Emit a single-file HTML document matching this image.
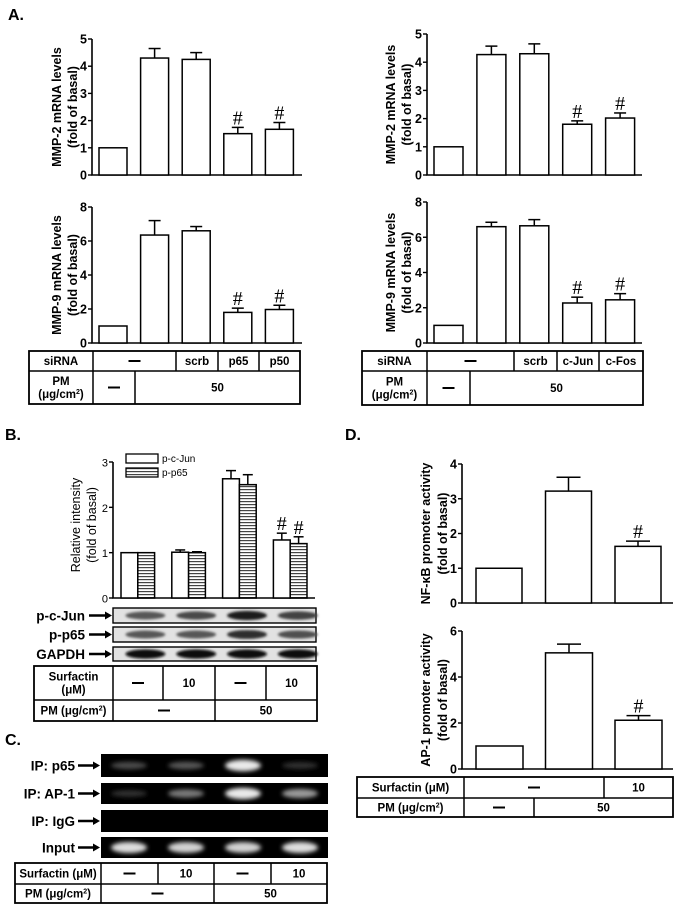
<!DOCTYPE html>
<html><head><meta charset="utf-8"><style>
html,body{margin:0;padding:0;background:#fff}
svg{display:block;font-family:"Liberation Sans",Arial,sans-serif}
</style></head><body>
<svg id="fig" width="681" height="909" viewBox="0 0 681 909" xmlns="http://www.w3.org/2000/svg">
<defs>
<pattern id="stripes" patternUnits="userSpaceOnUse" width="4" height="3"><rect width="4" height="3" fill="#fff"/><rect y="0" width="4" height="1.2" fill="#444"/></pattern>
<filter id="blur2" x="-20%" y="-50%" width="140%" height="200%"><feGaussianBlur stdDeviation="2.2"/></filter>
<filter id="blur1" x="-20%" y="-50%" width="140%" height="200%"><feGaussianBlur stdDeviation="1.2"/></filter>
</defs>
<g id="root"></g>
</svg>
<script>
// ---------- data ----------
const aCats = ['ctrl','pm','scrb','si1','si2'];
const a1Vals = [1, 4.3, 4.25, 1.52, 1.68];
const a1Err = [0, 0.35, 0.25, 0.23, 0.25];
const a1Hash = [false,false,false,true,true];
const a2Vals = [1, 6.35, 6.6, 1.8, 1.97];
const a2Err = [0, 0.85, 0.25, 0.25, 0.25];
const a3Vals = [1, 4.27, 4.3, 1.8, 2.02];
const a3Err = [0, 0.3, 0.35, 0.12, 0.18];
const a4Vals = [1, 6.6, 6.65, 2.27, 2.45];
const a4Err = [0, 0.25, 0.35, 0.33, 0.35];
const mmp2Ticks = [0,1,2,3,4,5];
const mmp9Ticks = [0,2,4,6,8];
const bJun = [1, 1.01, 2.63, 1.28];
const bJunErr = [0, 0.05, 0.18, 0.15];
const bP65 = [1, 1.0, 2.5, 1.2];
const bP65Err = [0, 0.02, 0.22, 0.15];
const bHash = [false,false,false,true];
const bTicks = [0,1,2,3];
const dNf = [1, 3.22, 1.63];
const dNfErr = [0, 0.4, 0.15];
const dNfTicks = [0,1,2,3,4];
const dAp = [1, 5.05, 2.12];
const dApErr = [0, 0.38, 0.2];
const dApTicks = [0,2,4,6];
const dHash = [false,false,true];
const blotJun = [0.45,0.55,0.85,0.6];
const blotP65 = [0.45,0.45,0.75,0.5];
const blotGapdh = [1,1,1,1];
const gelP65 = [0.2,0.25,0.9,0.08];
const gelAp1 = [0.08,0.4,0.9,0.55];
const gelIgg = [0,0,0,0];
const gelInput = [0.85,0.8,0.8,0.85];

const NS='http://www.w3.org/2000/svg';
const root=document.getElementById('root');
function el(tag,attrs,parent){const e=document.createElementNS(NS,tag);for(const k in attrs)e.setAttribute(k,attrs[k]);(parent||root).appendChild(e);return e;}
function txt(x,y,s,size,opts,parent){opts=opts||{};const t=el('text',{x:x,y:y,'font-size':size,'text-anchor':opts.anchor||'middle','font-weight':opts.weight||'bold',fill:opts.fill||'#000'},parent);if(opts.rot)t.setAttribute('transform','rotate(-90 '+x+' '+y+')');t.textContent=s;return t;}

function barChart(cfg){
  const g=el('g',{});
  
  
  const max=cfg.ticks[cfg.ticks.length-1];
  const ys=v=>cfg.y0-(v/max)*(cfg.y0-cfg.yTop);
  const xs=i=>cfg.xStart+i*cfg.step;
  const ax=el('path',{d:'M'+cfg.ax+' '+cfg.yTop+' V'+cfg.y0+' H'+cfg.xEnd,stroke:'#000','stroke-width':1.6,fill:'none'},g);
  
  cfg.ticks.forEach(t=>{
    el('line',{x1:cfg.ax-4,x2:cfg.ax,y1:ys(t),y2:ys(t),stroke:'#000','stroke-width':1.4},g);
    const tl=txt(cfg.ax-5,ys(t)+4.5,String(t),cfg.tickSize||12.5,{anchor:'end',weight:cfg.tickWeight||'bold'},g);
    
  });
  cfg.series.forEach((s,si)=>{
    s.vals.forEach((v,i)=>{
      const x=xs(i)+si*cfg.w;
      const r=el('rect',{x:x,y:ys(v),width:cfg.w,height:cfg.y0-ys(v),fill:s.fill||'#fff',stroke:'#000','stroke-width':1.5},g);
      
      
      const e=s.err[i];
      if(e>0){
        const cx=x+cfg.w/2;
        el('line',{x1:cx,x2:cx,y1:ys(v),y2:ys(v+e),stroke:'#000','stroke-width':1.5},g);
        el('line',{x1:cx-cfg.cap,x2:cx+cfg.cap,y1:ys(v+e),y2:ys(v+e),stroke:'#000','stroke-width':1.5},g);
      }
      if(s.hash&&s.hash[i]){
        const h=txt(x+cfg.w/2,ys(v+e)-3,'#',cfg.hashSize||20,{weight:'normal'},g);
        h.setAttribute('font-family','"Liberation Serif",serif');
        
      }
    });
  });
  cfg.title.forEach((l,i)=>{
    const t=txt(cfg.titleX[i],(cfg.yTop+cfg.y0)/2+(cfg.titleDy||0),l,cfg.titleSize||12.5,{rot:true,weight:cfg.titleWeight||'bold'},g);
    
  });
  return g;
}
function table(name,x1,x2,rows,size){
  const g=el('g',{});
  
  
  el('rect',{x:x1,y:rows[0].y1,width:x2-x1,height:rows[rows.length-1].y2-rows[0].y1,fill:'none',stroke:'#000','stroke-width':1.8},g);
  rows.forEach((r,ri)=>{
    if(ri>0)el('line',{x1:x1,x2:x2,y1:r.y1,y2:r.y1,stroke:'#000','stroke-width':1.5},g);
    r.cells.forEach((c,ci)=>{
      if(ci>0)el('line',{x1:c[0],x2:c[0],y1:r.y1,y2:r.y2,stroke:'#000','stroke-width':1.5},g);
      const lines=c[2].split('|');
      const cy=(r.y1+r.y2)/2;
      lines.forEach((l,li)=>{
        const yy=cy+4+(li-(lines.length-1)/2)*13;
        if(l==='—'){el('line',{x1:(c[0]+c[1])/2-6,x2:(c[0]+c[1])/2+6,y1:cy,y2:cy,stroke:'#000','stroke-width':2},g);}
        else{const t=txt((c[0]+c[1])/2,yy,'',size||11,{},g);t.innerHTML=l;}
      });
    });
  });
}
[['A.',8,20],['B.',5,440],['C.',5,745],['D.',345,440]].forEach(p=>{const t=txt(p[1],p[2],p[0],16,{anchor:'start'});});

barChart({name:'mmp2-nfkb-chart',ax:92,xEnd:302,yTop:39,y0:175,ticks:mmp2Ticks,xStart:99,step:41.6,w:28,cap:6,
  series:[{key:'mmp2',vals:a1Vals,err:a1Err,hash:a1Hash}],title:['MMP-2 mRNA levels','(fold of basal)'],titleX:[61,77]});
barChart({name:'mmp9-nfkb-chart',ax:92,xEnd:302,yTop:207,y0:343,ticks:mmp9Ticks,xStart:99,step:41.6,w:28,cap:6,
  series:[{key:'mmp9',vals:a2Vals,err:a2Err,hash:a1Hash}],title:['MMP-9 mRNA levels','(fold of basal)'],titleX:[61,77]});
barChart({name:'mmp2-ap1-chart',ax:427,xEnd:642,yTop:34,y0:175,ticks:mmp2Ticks,xStart:434,step:42.9,w:29,cap:6,
  series:[{key:'mmp2r',vals:a3Vals,err:a3Err,hash:a1Hash}],title:['MMP-2 mRNA levels','(fold of basal)'],titleX:[395,411]});
barChart({name:'mmp9-ap1-chart',ax:427,xEnd:642,yTop:202,y0:343,ticks:mmp9Ticks,xStart:434,step:42.9,w:29,cap:6,
  series:[{key:'mmp9r',vals:a4Vals,err:a4Err,hash:a1Hash}],title:['MMP-9 mRNA levels','(fold of basal)'],titleX:[395,411]});
table('sirna-table-left',29,300,[
 {y1:351,y2:371,cells:[[29,93,'siRNA'],[93,176,'—'],[176,218,'scrb'],[218,259,'p65'],[259,300,'p50']]},
 {y1:371,y2:404,cells:[[29,93,'PM|(μg/cm<tspan font-size="7" dy="-4">2</tspan><tspan dy="4">)</tspan>'],[93,135,'—'],[135,300,'50']]}],11.5);
table('sirna-table-right',362,643,[
 {y1:351,y2:371,cells:[[362,427,'siRNA'],[427,514,'—'],[514,557,'scrb'],[557,599,'c-Jun'],[599,643,'c-Fos']]},
 {y1:371,y2:405,cells:[[362,427,'PM|(μg/cm<tspan font-size="7" dy="-4">2</tspan><tspan dy="4">)</tspan>'],[427,470,'—'],[470,643,'50']]}],11.5);

barChart({name:'relative-intensity-chart',ax:113,xEnd:315,yTop:462,y0:598,ticks:bTicks,xStart:121,step:50.8,w:16.8,cap:5,tickWeight:'normal',tickSize:11,titleWeight:'normal',titleSize:12.5,titleDy:-5,
  series:[{key:'p-c-jun',vals:bJun,err:bJunErr,hash:bHash},{key:'p-p65',vals:bP65,err:bP65Err,hash:bHash,fill:'url(#stripes)'}],
  title:['Relative intensity','(fold of basal)'],titleX:[80,96]});
(function(){
  const g=el('g',{});
  el('rect',{x:126,y:454,width:32,height:9,fill:'#fff',stroke:'#000','stroke-width':1.3},g);
  el('rect',{x:126,y:468,width:32,height:9,fill:'url(#stripes)',stroke:'#000','stroke-width':1.3},g);
  const t1=txt(162,462,'p-c-Jun',10,{anchor:'start',weight:'normal'},g);
  const t2=txt(162,476,'p-p65',10,{anchor:'start',weight:'normal'},g);
})();
function arrow(x1,x2,y,g){el('line',{x1:x1,x2:x2-5,y1:y,y2:y,stroke:'#000','stroke-width':2.5},g);el('path',{d:'M'+(x2-7)+' '+(y-4)+' L'+x2+' '+y+' L'+(x2-7)+' '+(y+4)+'Z',fill:'#000'},g);}
function blot(name,label,y1,y2,ints){
  const g=el('g',{});
  el('rect',{x:113,y:y1,width:203,height:y2-y1,fill:'#e2e2e2',stroke:'#000','stroke-width':1.4},g);
  ints.forEach((v,i)=>{
    const cx=129+8.4+i*50.8;
    const c=Math.round(150-v*140);
    el('ellipse',{cx:cx+8,cy:(y1+y2)/2,rx:20,ry:(y2-y1)*0.22+v*1.5,fill:'rgb('+c+','+c+','+c+')',filter:'url(#blur1)'},g);
  });
  txt(85,(y1+y2)/2+5,label,13.5,{anchor:'end'},g);
  arrow(89,112,(y1+y2)/2,g);
}
blot('blot-p-c-jun','p-c-Jun',608,623,blotJun);
blot('blot-p-p65','p-p65',627,642,blotP65);
blot('blot-gapdh','GAPDH',647,661,blotGapdh);
table('surfactin-table-b',34,317,[
 {y1:666,y2:700,cells:[[34,113,'Surfactin|(μM)'],[113,163,'—'],[163,215,'10'],[215,266,'—'],[266,317,'10']]},
 {y1:700,y2:721,cells:[[34,113,'PM (μg/cm<tspan font-size="7" dy="-4">2</tspan><tspan dy="4">)</tspan>'],[113,215,'—'],[215,317,'50']]}],11.5);

function gel(name,label,y1,y2,ints){
  const g=el('g',{});
  el('rect',{x:101,y:y1,width:227,height:y2-y1,fill:'#000'},g);
  ints.forEach((v,i)=>{
    if(v<=0)return;
    const cx=129+i*57;
    const c=Math.round(30+v*225);
    el('ellipse',{cx:cx,cy:(y1+y2)/2,rx:18,ry:3+v*3,fill:'rgb('+c+','+c+','+c+')',filter:'url(#blur2)'},g);
  });
  txt(75,(y1+y2)/2+5,label,13.5,{anchor:'end'},g);
  arrow(78,100,(y1+y2)/2,g);
}
gel('gel-ip-p65','IP: p65',754,777,gelP65);
gel('gel-ip-ap1','IP: AP-1',783,804,gelAp1);
gel('gel-ip-igg','IP: IgG',810,832,gelIgg);
gel('gel-input','Input',837,858,gelInput);
table('surfactin-table-c',15,327,[
 {y1:863,y2:884,cells:[[15,101,'Surfactin (μM)'],[101,158,'—'],[158,214,'10'],[214,271,'—'],[271,327,'10']]},
 {y1:884,y2:903,cells:[[15,101,'PM (μg/cm<tspan font-size="7" dy="-4">2</tspan><tspan dy="4">)</tspan>'],[101,214,'—'],[214,327,'50']]}],11.5);

barChart({name:'nfkb-promoter-chart',ax:462,xEnd:673,yTop:464,y0:603,ticks:dNfTicks,xStart:476,step:69.5,w:46,cap:12,
  series:[{key:'nfkb',vals:dNf,err:dNfErr,hash:dHash}],title:['NF-κB promoter activity','(fold of basal)'],titleX:[430,447]});
barChart({name:'ap1-promoter-chart',ax:462,xEnd:673,yTop:631,y0:769,ticks:dApTicks,xStart:476,step:69.5,w:47,cap:12,
  series:[{key:'ap1',vals:dAp,err:dApErr,hash:dHash}],title:['AP-1 promoter activity','(fold of basal)'],titleX:[430,447]});
table('surfactin-table-d',357,673,[
 {y1:777,y2:798,cells:[[357,464,'Surfactin (μM)'],[464,604,'—'],[604,673,'10']]},
 {y1:798,y2:817,cells:[[357,464,'PM (μg/cm<tspan font-size="7" dy="-4">2</tspan><tspan dy="4">)</tspan>'],[464,534,'—'],[534,673,'50']]}],11.5);
</script>
</body></html>
